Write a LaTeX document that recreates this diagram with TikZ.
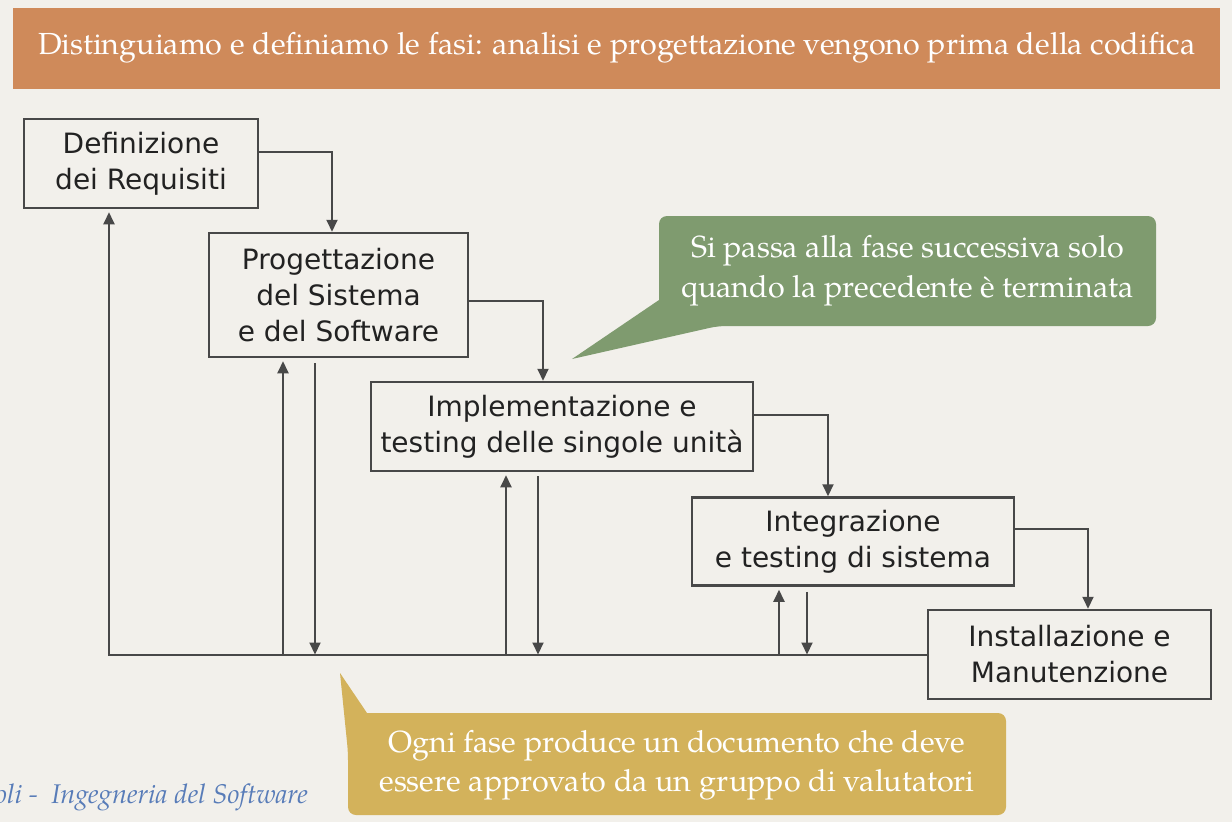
\documentclass[tikz,border=0pt]{standalone}
\usepackage{fontspec}
\setmainfont{texgyrepagella}[Extension=.otf, UprightFont=*-regular, ItalicFont=*-italic, BoldFont=*-bold]
\newfontfamily\boxfont{DejaVu Sans}
\usetikzlibrary{arrows.meta}
\definecolor{paper}{RGB}{242,240,235}
\definecolor{linegray}{RGB}{72,72,72}
\definecolor{textgray}{RGB}{34,34,34}
\definecolor{banner}{RGB}{207,138,90}
\definecolor{sage}{RGB}{127,155,111}
\definecolor{mustard}{RGB}{211,178,91}
\definecolor{footblue}{RGB}{88,124,184}

\begin{document}
\begin{tikzpicture}[x=1pt, y=-1pt,
            phase/.style = {draw = linegray, line width = 2.5pt, align = center, inner sep = 0pt,
                            text = textgray, font = \boxfont\fontsize{28}{36}\selectfont},
            flow/.style = {draw = linegray, line width = 2pt, -{Triangle[length=12pt,width=11pt]}},
            back/.style = {flow, shorten >= 3pt},
            note/.style = {text = white, align = center, inner sep = 0pt}
        ]
        \useasboundingbox[fill = paper] (0,0) rectangle (1232,822);
        % titolo
        \fill[banner] (13,8) rectangle (1220,89);
        \node[note, font = \fontsize{30.5}{36}\selectfont] (title) at (617,48)
            {Distinguiamo e definiamo le fasi: analisi e progettazione vengono prima della codifica};
        % fasi
        \node[phase, minimum width = 234pt, minimum height = 89pt] (def) at (141,163.5) {Definizione\\dei Requisiti};
        \node[phase, minimum width = 259pt, minimum height = 124pt] (prog) at (338.5,295) {Progettazione\\del Sistema\\e del Software};
        \node[phase, minimum width = 382pt, minimum height = 89pt] (impl) at (562,426.5) {Implementazione e\\testing delle singole unità};
        \node[phase, minimum width = 322pt, minimum height = 88pt] (integ) at (853,541.5) {Integrazione\\e testing di sistema};
        \node[phase, minimum width = 283pt, minimum height = 89pt] (inst) at (1069.5,654.5) {Installazione e\\Manutenzione};
        % cascata
        \draw[flow] ([yshift=11.5pt]def.east) -| ([xshift=-6.5pt]prog.north);
        \draw[flow] ([yshift=-6pt]prog.east) -| ([xshift=-19pt]impl.north);
        \draw[flow] ([yshift=11.5pt]impl.east) -| ([xshift=-25pt]integ.north);
        \draw[flow] ([yshift=12.5pt]integ.east) -| ([xshift=18.5pt]inst.north);
        % ritorni
        \draw[back] (inst.west) -| ([xshift=-32pt]def.south);
        \coordinate (pu) at ([xshift=-55.5pt]prog.south);
        \coordinate (pd) at ([xshift=-23.5pt]prog.south);
        \coordinate (iu) at ([xshift=-56pt]impl.south);
        \coordinate (id) at ([xshift=-24pt]impl.south);
        \coordinate (gu) at ([xshift=-74pt]integ.south);
        \coordinate (gd) at ([xshift=-46pt]integ.south);
        \draw[back] (pu |- inst.west) -- (pu);
        \draw[flow] ([yshift=-5pt]pd) -- (pd |- inst.west);
        \draw[back] (iu |- inst.west) -- (iu);
        \draw[flow] ([yshift=-4pt]id) -- (id |- inst.west);
        \draw[back] (gu |- inst.west) -- (gu);
        \draw[flow] ([yshift=-5pt]gd) -- (gd |- inst.west);
        % fumetti
        \fill[sage, rounded corners = 8pt] (659,216) -- (1156,216) -- (1156,326) -- (718,326)
            [sharp corners] -- (572,359) -- (659,300) [rounded corners = 8pt] -- cycle;
        \node[note, font = \fontsize{30.5}{40}\selectfont] (passa) at (907.5,271)
            {Si passa alla fase successiva solo\\quando la precedente è terminata};
        \fill[mustard, rounded corners = 8pt] (367,713) -- (1006,713) -- (1006,815) -- (348,815)
            -- (348,752) [sharp corners] -- (340,673) -- cycle;
        \node[note, font = \fontsize{30.5}{39}\selectfont] (doc) at (677,765)
            {Ogni fase produce un documento che deve\\essere approvato da un gruppo di valutatori};
        % pie di pagina
        \node[anchor = base east, inner sep = 0pt, text = footblue, font = \itshape\fontsize{27}{32}\selectfont] (foot) at (308,803)
            {oli\ -\ \ Ingegneria del Software};
    \end{tikzpicture}
\end{document}
